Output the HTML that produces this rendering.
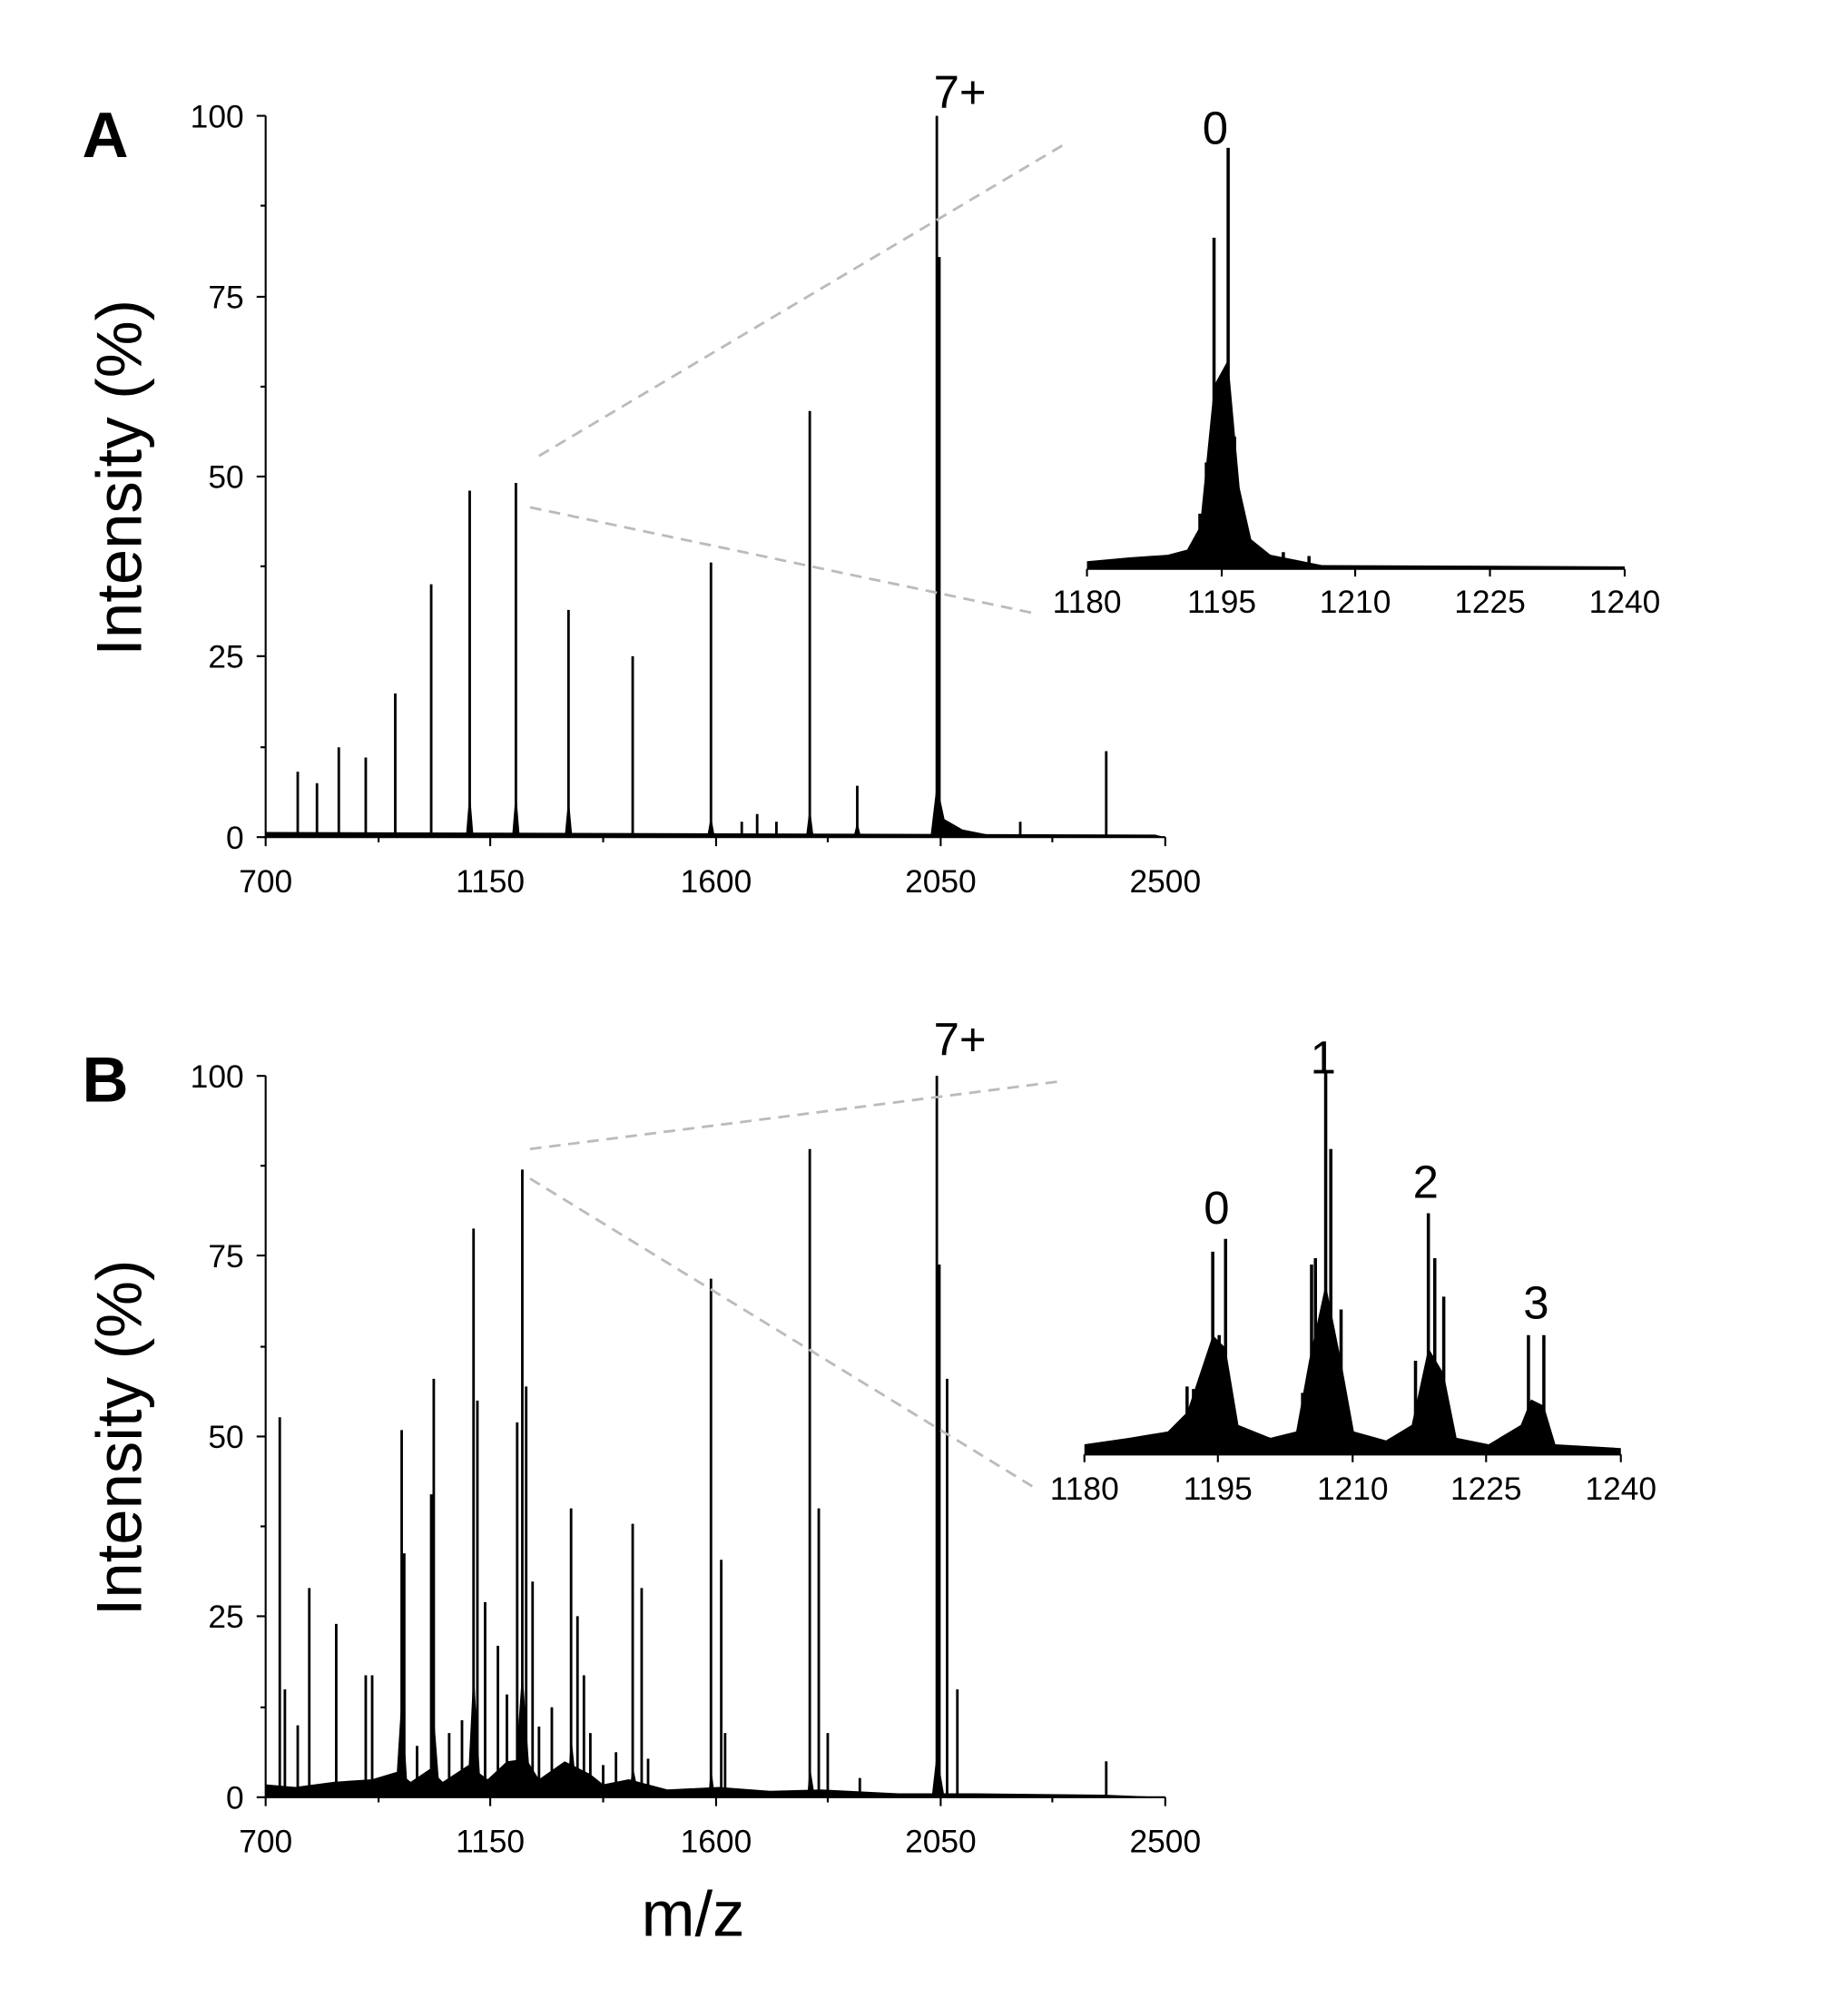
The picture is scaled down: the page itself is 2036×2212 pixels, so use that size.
<!DOCTYPE html>
<html><head><style>html,body{margin:0;padding:0;background:#fff}svg{display:block}</style></head><body>
<svg width="2036" height="2212" viewBox="0 0 1440 1564" xmlns="http://www.w3.org/2000/svg" font-family="Liberation Sans, sans-serif">
<rect width="1440" height="1564" fill="#fff"/>
<!-- Panel A -->
<text x="64" y="122" font-size="50" font-weight="bold">A</text>
<text transform="translate(110,372) rotate(-90)" font-size="50" text-anchor="middle">Intensity (%)</text>
<g stroke="#000" stroke-width="1.5" fill="none">
<path d="M207,90V652H908"/>
<path d="M200,90H207M200,231H207M200,371H207M200,511H207M200,652H207M203,160H207M203,301H207M203,441H207M203,582H207"/>
<path d="M207,652v7M382,652v7M558,652v7M733,652v7M908,652v7M295,652v4M470,652v4M645,652v4M820,652v4"/>
</g>
<g font-size="25" text-anchor="end"><text x="190" y="99">100</text><text x="190" y="240">75</text><text x="190" y="380">50</text><text x="190" y="520">25</text><text x="190" y="661">0</text></g>
<g font-size="25" text-anchor="middle"><text x="207" y="695">700</text><text x="382" y="695">1150</text><text x="558" y="695">1600</text><text x="733" y="695">2050</text><text x="908" y="695">2500</text></g>
<g stroke="#000" stroke-width="2">
<path d="M232,652V601M247,652V610M264,652V582M285,652V590M308,652V540M336,652V455M366,652V382M402,652V376M443,652V475M493,652V511M554,652V438M631,652V320M668,652V612M730,652V90M732,652V200M862,652V585M578,652V640M590,652V634M605,652V640M795,652V640"/>
</g>
<g fill="#000">
<path d="M207,652L207,648 900,650 908,652Z"/>
<path d="M363,652L366,615 369,652ZM399,652L402,615 405,652ZM440,652L443,620 446,652ZM628,652L631,628 634,652ZM665,652L668,640 671,652ZM725,652L730,610 736,638 750,646 770,650 725,652ZM551,652L554,635 557,652Z"/>
</g>
<text x="748" y="84" font-size="36" text-anchor="middle">7+</text>
<g stroke="#bbb" stroke-width="2" stroke-dasharray="9,6"><path d="M420,355L828,113M413,395L808,478"/></g>
<!-- Inset A -->
<g stroke="#000" stroke-width="1.5" fill="none">
<path d="M847,443H1266M847,443v6M952,443v6M1056,443v6M1161,443v6M1266,443v6"/>
</g>
<g font-size="25" text-anchor="middle"><text x="847" y="477">1180</text><text x="952" y="477">1195</text><text x="1056" y="477">1210</text><text x="1161" y="477">1225</text><text x="1266" y="477">1240</text></g>
<g fill="#000"><path d="M847,443L847,437 880,434 910,432 925,428 935,410 946,300 957,280 966,380 975,420 990,432 1010,436 1030,440 1266,441 1266,443Z"/></g>
<g stroke="#000" stroke-width="2.5"><path d="M935,443V400M940,443V360M946,443V185M950,443V300M957,443V115M962,443V340M966,443V400M975,443V425M1000,443V430M1020,443V433"/></g>
<text x="947" y="112" font-size="36" text-anchor="middle">0</text>
<!-- Panel B -->
<text x="64" y="858" font-size="50" font-weight="bold">B</text>
<text transform="translate(110,1120) rotate(-90)" font-size="50" text-anchor="middle">Intensity (%)</text>
<g stroke="#000" stroke-width="1.5" fill="none">
<path d="M207,838V1400H908"/>
<path d="M200,838H207M200,978H207M200,1119H207M200,1259H207M200,1400H207M203,908H207M203,1049H207M203,1189H207M203,1330H207"/>
<path d="M207,1400v7M382,1400v7M558,1400v7M733,1400v7M908,1400v7M295,1400v4M470,1400v4M645,1400v4M820,1400v4"/>
</g>
<g font-size="25" text-anchor="end"><text x="190" y="847">100</text><text x="190" y="987">75</text><text x="190" y="1128">50</text><text x="190" y="1268">25</text><text x="190" y="1409">0</text></g>
<g font-size="25" text-anchor="middle"><text x="207" y="1443">700</text><text x="382" y="1443">1150</text><text x="558" y="1443">1600</text><text x="733" y="1443">2050</text><text x="908" y="1443">2500</text></g>
<g fill="#000">
<path d="M207,1400L207,1390 230,1392 260,1388 290,1386 310,1380 320,1388 335,1378 345,1388 365,1375 380,1386 395,1372 410,1370 420,1386 440,1372 460,1382 470,1390 490,1386 520,1394 560,1392 600,1395 640,1394 700,1397 760,1397 860,1398 908,1400Z"/>
<path d="M308,1400L313,1320 318,1400ZM334,1400L338,1335 343,1400ZM364,1400L369,1300 375,1400ZM400,1400L407,1300 414,1400ZM442,1400L445,1350 450,1400ZM490,1400L493,1375 498,1400ZM552,1400L554,1375 557,1400ZM629,1400L631,1375 635,1400ZM726,1400L730,1365 736,1400Z"/>
</g>
<g stroke="#000" stroke-width="2">
<path d="M218,1400V1104M222,1400V1316M232,1400V1344M241,1400V1237M262,1400V1265M285,1400V1305M290,1400V1305M313,1400V1114M315,1400V1210M338,1400V1074M336,1400V1164M369,1400V957M372,1400V1091M378,1400V1248M388,1400V1282M403,1400V1108M407,1400V911M410,1400V1080M415,1400V1232M445,1400V1175M450,1400V1259M455,1400V1305M493,1400V1187M500,1400V1237M554,1400V996M562,1400V1215M631,1400V895M638,1400V1175M645,1400V1350M730,1400V838M732,1400V985M738,1400V1074M746,1400V1316M862,1400V1372M565,1400V1350M670,1400V1385M325,1400V1360M350,1400V1350M360,1400V1340M395,1400V1320M420,1400V1345M430,1400V1330M460,1400V1350M470,1400V1375M480,1400V1365M505,1400V1370"/>
</g>
<text x="748" y="822" font-size="36" text-anchor="middle">7+</text>
<g stroke="#bbb" stroke-width="2" stroke-dasharray="9,6"><path d="M413,895L828,842M413,918L808,1160"/></g>
<!-- Inset B -->
<g stroke="#000" stroke-width="1.5" fill="none">
<path d="M845,1133H1263M845,1133v6M949,1133v6M1054,1133v6M1158,1133v6M1263,1133v6"/>
</g>
<g font-size="25" text-anchor="middle"><text x="845" y="1168">1180</text><text x="949" y="1168">1195</text><text x="1054" y="1168">1210</text><text x="1158" y="1168">1225</text><text x="1263" y="1168">1240</text></g>
<g fill="#000"><path d="M845,1133L845,1125 880,1120 910,1115 925,1100 945,1040 955,1050 965,1110 990,1120 1010,1115 1020,1060 1033,1000 1045,1060 1055,1115 1080,1122 1100,1110 1113,1050 1125,1070 1135,1120 1160,1125 1185,1110 1193,1090 1203,1095 1212,1125 1263,1128 1263,1133Z"/></g>
<g stroke="#000" stroke-width="2.5"><path d="M925,1133V1080M930,1133V1082M935,1133V1090M945,1133V975M950,1133V1040M955,1133V965M962,1133V1110M1015,1133V1085M1022,1133V985M1025,1133V980M1033,1133V835M1037,1133V895M1045,1133V1020M1103,1133V1060M1113,1133V945M1118,1133V980M1125,1133V1010M1191,1133V1040M1203,1133V1040"/></g>
<g font-size="36" text-anchor="middle"><text x="948" y="953">0</text><text x="1031" y="836">1</text><text x="1111" y="933">2</text><text x="1197" y="1027">3</text></g>
<text x="540" y="1508" font-size="50" text-anchor="middle">m/z</text>
</svg>
</body></html>
